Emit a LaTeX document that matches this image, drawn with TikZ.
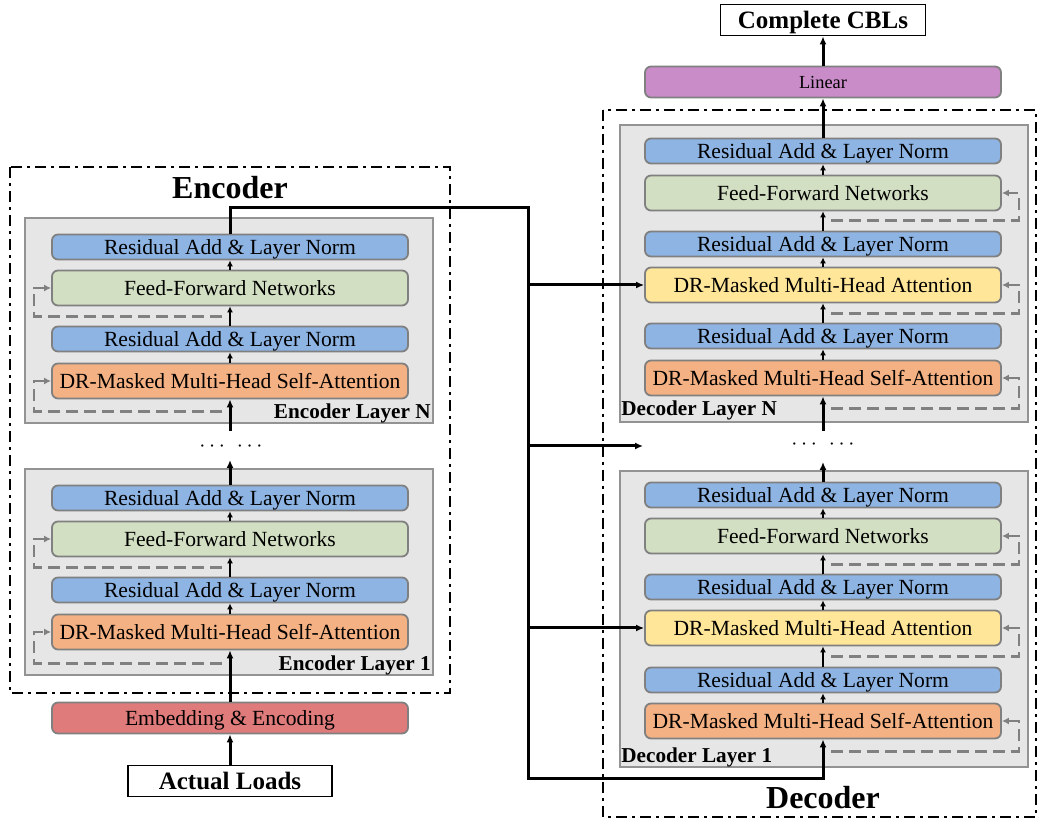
\documentclass[tikz,border=0pt]{standalone}
\usepackage{fontspec}
\setmainfont{Liberation Serif}
\usetikzlibrary{arrows.meta}
\definecolor{resBlue}{RGB}{142,180,227}
\definecolor{ffnGreen}{RGB}{210,223,194}
\definecolor{saOrange}{RGB}{244,177,131}
\definecolor{caYellow}{RGB}{255,230,153}
\definecolor{embRed}{RGB}{224,123,123}
\definecolor{linPurple}{RGB}{201,140,200}
\definecolor{layerGray}{RGB}{230,230,230}

\begin{document}
\begin{tikzpicture}[x=0.5pt, y=-0.5pt,
    blk/.style={draw=gray, line width=0.9pt, rounded corners=3pt, minimum width=178pt, inner sep=0pt, text height=7.3pt, text depth=0pt, font=\fontsize{10.8}{13}\selectfont},
    res/.style={blk, fill=resBlue, minimum height=12.5pt},
    ffn/.style={blk, fill=ffnGreen, minimum height=17.5pt},
    selfatt/.style={blk, fill=saOrange, minimum height=17.5pt},
    crossatt/.style={blk, fill=caYellow, minimum height=17.5pt},
    layerbox/.style={draw=gray!85, line width=0.9pt, fill=layerGray},
    layerlbl/.style={font=\bfseries\fontsize{10.6}{12}\selectfont, inner sep=0pt, text height=7.2pt, text depth=0pt},
    parttitle/.style={font=\bfseries\fontsize{16}{18}\selectfont, inner sep=0pt},
    iobox/.style={draw, line width=0.9pt, minimum height=15.5pt, inner sep=0pt, text height=8.5pt, text depth=0pt, font=\bfseries\fontsize{12.5}{14}\selectfont},
    flow/.style={-{Latex[length=3pt,width=3pt]}, line width=1.3pt},
    mainflow/.style={-{Latex[length=4pt,width=3.5pt]}, line width=1.5pt},
    skipline/.style={-{Latex[length=3.5pt,width=3.5pt]}, gray, line width=1.3pt, dash pattern=on 6pt off 3pt},
    partframe/.style={line width=1.4pt, dash pattern=on 5.5pt off 2.5pt on 1.5pt off 2.5pt}]
    \useasboundingbox (0,0) rectangle (1038,822);

    % ---------------- Encoder ----------------
    \draw[partframe] (10,167) rectangle (450,693);
    \node[parttitle] (enc-title) at (230,188) {Encoder};

    % Encoder Layer N
    \draw[layerbox] (25,218) rectangle (433,423);
    \node[res] (encN-res2) at (230,247) {Residual Add \& Layer Norm};
    \node[ffn] (encN-ff) at (230,288) {Feed-Forward Networks};
    \node[res] (encN-res1) at (230,339) {Residual Add \& Layer Norm};
    \node[selfatt] (encN-sa) at (230,381) {DR-Masked Multi-Head Self-Attention};
    \node[layerlbl, anchor=east] (encN-lbl) at (431,411) {Encoder Layer N};

    % Encoder Layer 1
    \draw[layerbox] (25,469) rectangle (433,675);
    \node[res] (enc1-res2) at (230,498) {Residual Add \& Layer Norm};
    \node[ffn] (enc1-ff) at (230,539) {Feed-Forward Networks};
    \node[res] (enc1-res1) at (230,590) {Residual Add \& Layer Norm};
    \node[selfatt] (enc1-sa) at (230,632) {DR-Masked Multi-Head Self-Attention};
    \node[layerlbl, anchor=east] (enc1-lbl) at (431,663) {Encoder Layer 1};

    \node[font=\fontsize{10.8}{13}\selectfont] (enc-dots) at (231,447) {$\cdots$\hspace{6pt}$\cdots$};
    \coordinate (enc-gap-in) at (230,460);
    \coordinate (enc-gap-out) at (230,431);

    % Input side
    \node[blk, fill=embRed, minimum height=15.5pt] (emb) at (230,718) {Embedding \& Encoding};
    \node[iobox, minimum width=102pt] (loads) at (230,781) {Actual Loads};

    % ---------------- Decoder ----------------
    \draw[partframe] (603,110) rectangle (1036,817);
    \node[parttitle] (dec-title) at (823,798) {Decoder};

    % Decoder Layer N
    \draw[layerbox] (620,125) rectangle (1028,422);
    \node[res] (decN-res3) at (823,151) {Residual Add \& Layer Norm};
    \node[ffn] (decN-ff) at (823,193) {Feed-Forward Networks};
    \node[res] (decN-res2) at (823,244) {Residual Add \& Layer Norm};
    \node[crossatt] (decN-ca) at (823,285) {DR-Masked Multi-Head Attention};
    \node[res] (decN-res1) at (823,336) {Residual Add \& Layer Norm};
    \node[selfatt] (decN-sa) at (823,378) {DR-Masked Multi-Head Self-Attention};
    \node[layerlbl, anchor=west] (decN-lbl) at (621,408) {Decoder Layer N};

    % Decoder Layer 1
    \draw[layerbox] (620,471) rectangle (1028,767);
    \node[res] (dec1-res3) at (823,495) {Residual Add \& Layer Norm};
    \node[ffn] (dec1-ff) at (823,536) {Feed-Forward Networks};
    \node[res] (dec1-res2) at (823,587) {Residual Add \& Layer Norm};
    \node[crossatt] (dec1-ca) at (823,628) {DR-Masked Multi-Head Attention};
    \node[res] (dec1-res1) at (823,680) {Residual Add \& Layer Norm};
    \node[selfatt] (dec1-sa) at (823,721) {DR-Masked Multi-Head Self-Attention};
    \node[layerlbl, anchor=west] (dec1-lbl) at (621,755) {Decoder Layer 1};

    \node[font=\fontsize{10.8}{13}\selectfont] (dec-dots) at (823,445) {$\cdots$\hspace{6pt}$\cdots$};
    \coordinate (dec-gap-in) at (823,462);
    \coordinate (dec-gap-out) at (823,431);
    \coordinate (dec-gap) at (643,446);

    % Output side
    \node[blk, fill=linPurple, minimum height=15.5pt, text height=6.1pt, font=\fontsize{9.2}{11}\selectfont] (linear) at (823,82) {Linear};
    \node[iobox, minimum width=102.5pt] (cbls) at (823,20) {Complete CBLs};

    % ---------------- Encoder flow ----------------
    \draw[mainflow] (loads) -- (emb);
    \draw[mainflow] (emb) -- (enc1-sa);
    \draw[flow] (enc1-sa) -- (enc1-res1);
    \draw[flow] (enc1-res1) -- (enc1-ff);
    \draw[flow] (enc1-ff) -- (enc1-res2);
    \draw[mainflow] (enc1-res2) -- (enc-gap-in);
    \draw[mainflow] (enc-gap-out) -- (encN-sa);
    \draw[flow] (encN-sa) -- (encN-res1);
    \draw[flow] (encN-res1) -- (encN-ff);
    \draw[flow] (encN-ff) -- (encN-res2);

    % residual skips (encoder)
    \draw[skipline] ([xshift=-4pt,yshift=-6pt]encN-sa.south) -| ([xshift=-8.5pt]encN-sa.west) -- (encN-sa.west);
    \draw[skipline] ([xshift=-4pt,yshift=-5pt]encN-ff.south) -| ([xshift=-8.5pt]encN-ff.west) -- (encN-ff.west);
    \draw[skipline] ([xshift=-4pt,yshift=-6.5pt]enc1-sa.south) -| ([xshift=-8.5pt]enc1-sa.west) -- (enc1-sa.west);
    \draw[skipline] ([xshift=-4pt,yshift=-5pt]enc1-ff.south) -| ([xshift=-8.5pt]enc1-ff.west) -- (enc1-ff.west);

    % ---------------- Encoder -> Decoder ----------------
    \coordinate (bus-top) at (528,208);
    \coordinate (bus-bot) at (528,778);
    \draw[mainflow] (encN-res2.north) |- (bus-top) -- (bus-bot) -| (dec1-sa.south);
    \draw[mainflow] (bus-top |- decN-ca.west) -- (decN-ca.west);
    \draw[mainflow] (bus-top |- dec-gap) -- (dec-gap);
    \draw[mainflow] (bus-top |- dec1-ca.west) -- (dec1-ca.west);

    % ---------------- Decoder flow ----------------
    \draw[flow] (dec1-sa) -- (dec1-res1);
    \draw[flow] (dec1-res1) -- (dec1-ca);
    \draw[flow] (dec1-ca) -- (dec1-res2);
    \draw[flow] (dec1-res2) -- (dec1-ff);
    \draw[flow] (dec1-ff) -- (dec1-res3);
    \draw[mainflow] (dec1-res3) -- (dec-gap-in);
    \draw[mainflow] (dec-gap-out) -- (decN-sa);
    \draw[flow] (decN-sa) -- (decN-res1);
    \draw[flow] (decN-res1) -- (decN-ca);
    \draw[flow] (decN-ca) -- (decN-res2);
    \draw[flow] (decN-res2) -- (decN-ff);
    \draw[flow] (decN-ff) -- (decN-res3);
    \draw[mainflow] (decN-res3) -- (linear);
    \draw[mainflow] (linear) -- (cbls);

    % residual skips (decoder)
    \draw[skipline] ([xshift=4pt,yshift=-6pt]decN-sa.south) -| ([xshift=8.5pt]decN-sa.east) -- (decN-sa.east);
    \draw[skipline] ([xshift=4pt,yshift=-5pt]decN-ca.south) -| ([xshift=8.5pt]decN-ca.east) -- (decN-ca.east);
    \draw[skipline] ([xshift=4pt,yshift=-4.5pt]decN-ff.south) -| ([xshift=8.5pt]decN-ff.east) -- (decN-ff.east);
    \draw[skipline] ([xshift=4pt,yshift=-6pt]dec1-sa.south) -| ([xshift=8.5pt]dec1-sa.east) -- (dec1-sa.east);
    \draw[skipline] ([xshift=4pt,yshift=-5pt]dec1-ca.south) -| ([xshift=8.5pt]dec1-ca.east) -- (dec1-ca.east);
    \draw[skipline] ([xshift=4pt,yshift=-5pt]dec1-ff.south) -| ([xshift=8.5pt]dec1-ff.east) -- (dec1-ff.east);
\end{tikzpicture}
\end{document}
